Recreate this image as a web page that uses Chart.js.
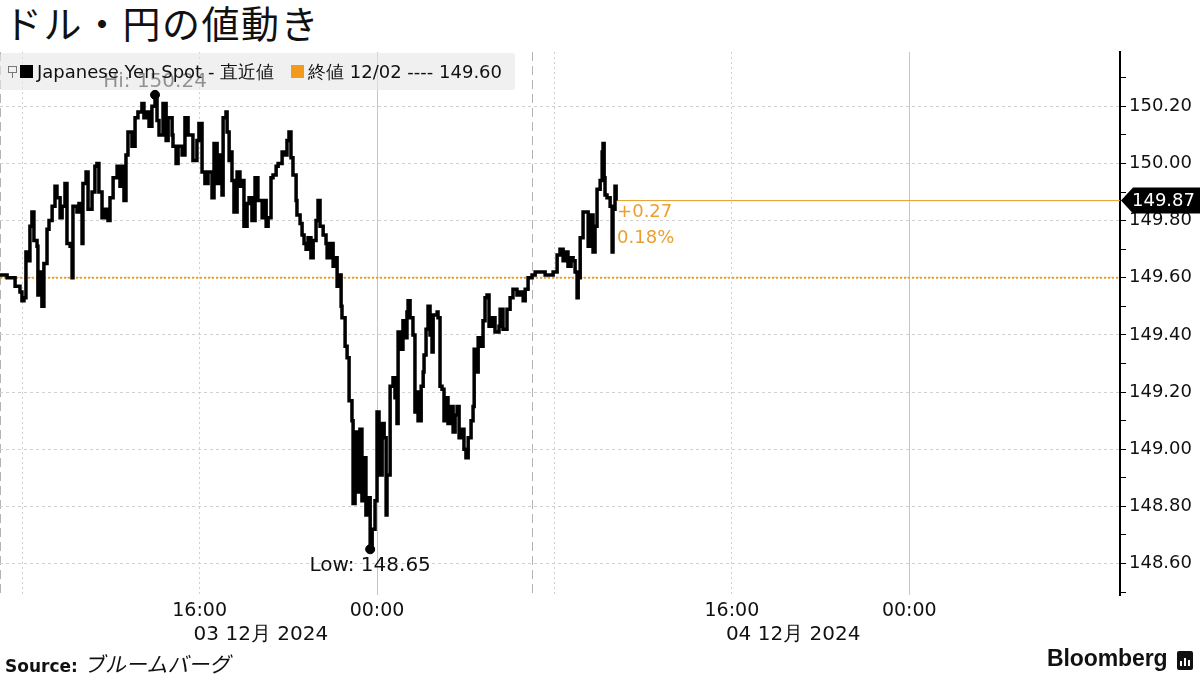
<!DOCTYPE html>
<html>
<head>
<meta charset="utf-8">
<script src="https://cdn.jsdelivr.net/npm/chart.js@4.4.0/dist/chart.umd.min.js"></script>
<style>
  body { margin: 0; width: 1200px; height: 675px; position: relative; overflow: hidden; background: #fff; font-family: "DejaVu Sans", sans-serif; color: #111; }
  #title { position: absolute; left: 4px; top: -3px; font: 38px/50px "Noto Sans CJK JP", sans-serif; letter-spacing: 1.5px; color: #111; }
  #chart { position: absolute; left: 0; top: 0; }
  #legend { position: absolute; left: 0; top: 53px; width: 515px; height: 37px; background: rgba(230,230,230,0.6); border-radius: 3px; z-index: 2; font-size: 18px; line-height: 37px; white-space: nowrap; }
  #legend .icon { position: absolute; left: 8px; top: 13px; width: 7px; height: 5px; border: 1px solid #777; }
  #legend .icon:after { content: ''; position: absolute; left: 3px; top: 5px; width: 1px; height: 6px; background: #777; }
  #legend .sq { position: absolute; top: 12px; width: 13px; height: 13px; }
  #legend .txt { position: absolute; top: 0; }
  #source { position: absolute; left: 5px; top: 648px; font-size: 17px; }
  #source b { font-weight: bold; }
  #source i { display: inline-block; font-style: normal; font-family: "Noto Sans CJK JP", sans-serif; font-size: 21px; margin-left: 8px; transform: skewX(-12deg); }
  #brand { position: absolute; left: 1047px; top: 645px; font: bold 23px "Liberation Sans", Arial, sans-serif; letter-spacing: -0.1px; }
  #logo { position: absolute; left: 1177px; top: 651px; width: 16px; height: 19px; background: #111; border-radius: 2px; }
  #logo span { position: absolute; bottom: 4px; width: 2px; background: #fff; }
</style>
</head>
<body>
<div id="title">ドル・円の値動き</div>
<div id="legend">
  <span class="icon"></span>
  <span class="sq" style="left:20px;background:#000"></span>
  <span class="txt" id="lg1" style="left:37px"></span>
  <span class="sq" style="left:291px;background:#f39a1e"></span>
  <span class="txt" id="lg2" style="left:308px"></span>
</div>
<canvas id="chart" width="1200" height="675"></canvas>
<div id="source"><b>Source:</b><i>ブルームバーグ</i></div>
<div id="brand">Bloomberg</div>
<div id="logo"><span style="left:3px;height:5px"></span><span style="left:7px;height:8px"></span><span style="left:11px;height:6px"></span></div>
<script>
// hours counted from 2024-12-03 00:00
const times = [
  7.00, 7.32, 7.54, 7.68, 7.90, 7.99, 8.08, 8.17, 8.26, 8.35, 8.44, 8.53, 8.67, 8.71, 8.80, 8.89, 8.98,
  9.12, 9.21, 9.35, 9.48, 9.57, 9.71, 9.80, 9.93, 10.02, 10.16, 10.25, 10.29, 10.47, 10.56, 10.70, 10.74,
  10.88, 10.97, 11.15, 11.28, 11.37, 11.46, 11.60, 11.74, 11.87, 11.96, 12.10, 12.28, 12.41, 12.50, 12.59,
  12.68, 12.77, 12.95, 13.09, 13.22, 13.40, 13.49, 13.63, 13.72, 13.85, 13.99, 14.08, 14.17, 14.35, 14.49,
  14.58, 14.76, 14.80, 14.94, 15.03, 15.21, 15.34, 15.48, 15.70, 15.88, 15.97, 16.11, 16.24, 16.38, 16.56,
  16.65, 16.79, 16.92, 17.01, 17.06, 17.19, 17.24, 17.33, 17.42, 17.46, 17.55, 17.69, 17.82, 17.96, 18.00,
  18.14, 18.23, 18.36, 18.50, 18.63, 18.82, 18.91, 19.00, 19.09, 19.22, 19.31, 19.45, 19.54, 19.72, 19.85,
  19.94, 20.03, 20.12, 20.21, 20.35, 20.39, 20.53, 20.62, 20.71, 20.80, 20.89, 21.02, 21.12, 21.25, 21.34,
  21.43, 21.57, 21.70, 21.75, 21.88, 22.02, 22.11, 22.20, 22.29, 22.38, 22.42, 22.56, 22.65, 22.74, 22.87,
  22.92, 23.01, 23.10, 23.23, 23.32, 23.41, 23.50, 23.60, 23.69, 23.78, 23.91, 24.00, 24.09, 24.23, 24.32,
  24.41, 24.45, 24.59, 24.72, 24.81, 24.90, 24.95, 25.08, 25.17, 25.26, 25.35, 25.40, 25.49, 25.62, 25.71,
  25.80, 25.85, 25.99, 26.08, 26.12, 26.21, 26.30, 26.39, 26.48, 26.53, 26.71, 26.75, 26.84, 26.93, 27.02,
  27.16, 27.20, 27.34, 27.43, 27.52, 27.61, 27.70, 27.83, 27.92, 28.01, 28.11, 28.24, 28.33, 28.38, 28.51,
  28.56, 28.69, 28.78, 28.87, 28.96, 29.05, 29.19, 29.32, 29.50, 29.55, 29.68, 29.86, 30.00, 30.13, 30.31,
  30.45, 30.59, 30.68, 30.81, 30.99, 31.13, 31.35, 31.58, 31.80, 31.94, 32.12, 32.25, 32.39, 32.48, 32.61,
  32.75, 32.84, 32.93, 33.02, 33.07, 33.16, 33.29, 33.47, 33.52, 33.65, 33.74, 33.83, 33.92, 34.06, 34.15,
  34.19, 34.24, 34.28, 34.37, 34.51, 34.60, 34.64, 34.73, 34.78
];
const prices = [
  149.61, 149.60, 149.60, 149.57, 149.55, 149.52, 149.53, 149.69, 149.66, 149.78, 149.83, 149.73, 149.71, 149.54, 149.62, 149.50, 149.65,
  149.77, 149.80, 149.85, 149.92, 149.88, 149.81, 149.85, 149.93, 149.72, 149.71, 149.60, 149.85, 149.83, 149.86, 149.72, 149.93,
  149.97, 149.84, 149.90, 149.99, 150.00, 149.90, 149.81, 149.84, 149.80, 149.88, 149.95, 149.99, 149.92, 149.99, 149.87,
  150.03, 150.11, 150.06, 150.16, 150.18, 150.21, 150.16, 150.18, 150.13, 150.20, 150.24, 150.15, 150.10, 150.21, 150.08,
  150.16, 150.10, 150.06, 150.00, 150.06, 150.03, 150.16, 150.10, 150.01, 150.08, 150.14, 149.97, 149.93, 149.97, 149.88,
  150.07, 149.93, 150.03, 149.89, 150.16, 150.18, 150.11, 150.01, 150.04, 149.94, 149.83, 149.97, 149.92, 149.94, 149.78,
  149.86, 149.88, 149.80, 149.95, 149.87, 149.81, 149.87, 149.78, 149.81, 149.95, 149.96, 149.99, 150.00, 150.04, 150.03,
  150.08, 150.11, 150.02, 149.96, 149.87, 149.82, 149.79, 149.75, 149.72, 149.70, 149.74, 149.67, 149.73, 149.80, 149.87,
  149.78, 149.75, 149.72, 149.67, 149.72, 149.64, 149.67, 149.57, 149.61, 149.50, 149.46, 149.36, 149.32, 149.17, 149.10,
  148.81, 149.06, 148.85, 149.07, 148.82, 148.97, 148.77, 148.83, 148.65, 148.72, 148.82, 149.13, 148.91, 149.09, 149.04,
  148.77, 148.91, 149.22, 149.25, 149.18, 149.09, 149.41, 149.35, 149.45, 149.39, 149.48, 149.52, 149.46, 149.40, 149.13,
  149.20, 149.10, 149.22, 149.27, 149.33, 149.42, 149.50, 149.40, 149.34, 149.47, 149.48, 149.46, 149.22, 149.21, 149.10,
  149.18, 149.09, 149.15, 149.06, 149.12, 149.15, 149.04, 149.07, 149.00, 148.97, 149.04, 149.10, 149.15, 149.35, 149.27,
  149.39, 149.36, 149.45, 149.53, 149.54, 149.43, 149.46, 149.41, 149.43, 149.49, 149.42, 149.49, 149.53, 149.56, 149.54,
  149.55, 149.52, 149.56, 149.60, 149.61, 149.62, 149.62, 149.61, 149.61, 149.62, 149.68, 149.70, 149.66, 149.69, 149.64,
  149.67, 149.66, 149.62, 149.53, 149.60, 149.74, 149.83, 149.83, 149.71, 149.82, 149.69, 149.78, 149.91, 149.94, 150.04,
  150.07, 149.95, 149.89, 149.88, 149.85, 149.69, 149.84, 149.92, 149.87
];

const seriesName = 'Japanese Yen Spot - 直近値';
const prevCloseLabel = '終値 12/02';
const prevClose = 149.60;
const hiTime = 13.99, hiPrice = 150.24;
const lowTime = 23.69, lowPrice = 148.65;

const xMin = 7, xMax = 57.5;
const xGridHours = [7, 8, 16, 24, 31, 32, 40, 48];
const xTickLabels = { 16: '16:00', 24: '00:00', 40: '16:00', 48: '00:00' };
const dateLabels = [[16, '03 12月 2024'], [40, '04 12月 2024']];
const midnights = [24, 48];
const sessionBreaks = [7, 31];

const yMin = 148.49, yMax = 150.39;
const yTickValues = [148.5, 148.6, 148.7, 148.8, 148.9, 149.0, 149.1, 149.2, 149.3, 149.4,
  149.5, 149.6, 149.7, 149.8, 149.9, 150.0, 150.1, 150.2, 150.3];
const yTickLabels = ['', '148.60', '', '148.80', '', '149.00', '', '149.20', '', '149.40',
  '', '149.60', '', '149.80', '', '150.00', '', '150.20', ''];

const orange = '#eb9f2e';
const lastTime = times[times.length - 1];
const lastPrice = prices[prices.length - 1];
const change = lastPrice - prevClose;
const changePct = change / prevClose * 100;

document.getElementById('lg1').textContent = seriesName;
document.getElementById('lg2').textContent = prevCloseLabel + ' ---- ' + prevClose.toFixed(2);

const priceData = times.map((t, i) => ({ x: t, y: prices[i] }));

// labels, last price tag and dates
const annotations = {
  id: 'annotations',
  afterDraw(chart) {
    const { ctx, scales: { x, y } } = chart;
    ctx.save();
    ctx.font = '20px "DejaVu Sans"';
    ctx.textBaseline = 'middle';
    ctx.textAlign = 'center';
    ctx.fillStyle = '#111';
    ctx.fillText('Hi: ' + hiPrice.toFixed(2), x.getPixelForValue(hiTime), y.getPixelForValue(hiPrice) - 13);
    ctx.fillText('Low: ' + lowPrice.toFixed(2), x.getPixelForValue(lowTime), y.getPixelForValue(lowPrice) + 17);

    ctx.font = '18px "DejaVu Sans"';
    const lx = x.getPixelForValue(lastTime) + 1;
    const ly = y.getPixelForValue(lastPrice);
    ctx.textAlign = 'left';
    ctx.fillStyle = orange;
    ctx.fillText((change >= 0 ? '+' : '') + change.toFixed(2), lx, ly + 12);
    ctx.fillText(changePct.toFixed(2) + '%', lx, ly + 38);

    const ax = chart.chartArea.right + 1;
    ctx.fillStyle = '#000';
    ctx.beginPath();
    ctx.moveTo(ax, ly);
    ctx.lineTo(ax + 12, ly - 13);
    ctx.lineTo(1200, ly - 13);
    ctx.lineTo(1200, ly + 13);
    ctx.lineTo(ax + 12, ly + 13);
    ctx.closePath();
    ctx.fill();
    ctx.fillStyle = '#fff';
    ctx.fillText(lastPrice.toFixed(2), ax + 11, ly + 1);

    ctx.font = '20px "DejaVu Sans"';
    ctx.fillStyle = '#111';
    dateLabels.forEach(([h, text]) => {
      ctx.fillText(text, x.getPixelForValue(h) - 6, chart.chartArea.bottom + 40);
    });
    ctx.restore();
  }
};

new Chart(document.getElementById('chart'), {
  type: 'line',
  data: {
    datasets: [
      {
        type: 'scatter',
        data: [{ x: hiTime, y: hiPrice }, { x: lowTime, y: lowPrice }],
        pointRadius: 4.5,
        pointBackgroundColor: '#000',
        pointBorderColor: '#000',
        order: 0
      },
      {
        label: seriesName,
        data: priceData,
        borderColor: '#000',
        borderWidth: 3.5,
        pointRadius: 0,
        stepped: true,
        order: 1
      },
      {
        data: [{ x: lastTime, y: lastPrice }, { x: xMax, y: lastPrice }],
        borderColor: '#e39b22',
        borderWidth: 1,
        pointRadius: 0,
        order: 2
      },
      {
        data: [{ x: xMin, y: prevClose }, { x: xMax, y: prevClose }],
        borderColor: orange,
        borderWidth: 2,
        borderDash: [2, 2],
        pointRadius: 0,
        order: 3
      }
    ]
  },
  options: {
    responsive: false,
    animation: false,
    devicePixelRatio: 1,
    layout: { autoPadding: false, padding: { top: 52, bottom: 50, left: 0, right: 0 } },
    plugins: { legend: { display: false }, tooltip: { enabled: false } },
    scales: {
      x: {
        type: 'linear',
        min: xMin,
        max: xMax,
        afterBuildTicks: (scale) => { scale.ticks = xGridHours.map(v => ({ value: v })); },
        afterFit: (scale) => { scale.height = 30; },
        ticks: {
          autoSkip: false,
          maxRotation: 0,
          padding: 0,
          color: '#111',
          font: { family: 'DejaVu Sans', size: 19 },
          callback: (v) => xTickLabels[v] || ''
        },
        grid: {
          drawTicks: true,
          tickLength: 5,
          tickColor: 'rgba(0,0,0,0)',
          lineWidth: 1,
          color: (ctx) => {
            const v = ctx.tick && ctx.tick.value;
            if (midnights.includes(v)) return '#c6c6c6';
            if (sessionBreaks.includes(v)) return '#b4b4b4';
            return '#d0d0d0';
          }
        },
        border: {
          display: false,
          dash: (ctx) => {
            const v = ctx.tick && ctx.tick.value;
            if (v === undefined || midnights.includes(v)) return [];
            if (sessionBreaks.includes(v)) return [9, 5];
            return [2, 3];
          }
        }
      },
      y: {
        type: 'linear',
        position: 'right',
        min: yMin,
        max: yMax,
        afterBuildTicks: (scale) => { scale.ticks = yTickValues.map(v => ({ value: v })); },
        afterFit: (scale) => { scale.width = 80; },
        ticks: {
          padding: 3,
          color: '#111',
          font: { family: 'DejaVu Sans', size: 18 },
          callback: (v, i) => yTickLabels[i]
        },
        grid: {
          lineWidth: 1,
          tickLength: 6,
          tickWidth: 1,
          tickColor: '#000',
          tickBorderDash: [],
          color: (ctx) => (yTickLabels[ctx.index] ? '#d0d0d0' : 'rgba(0,0,0,0)')
        },
        border: {
          display: true,
          color: '#000',
          width: 2,
          dash: (ctx) => (ctx.tick ? [3, 3] : [])
        }
      }
    }
  },
  plugins: [annotations]
});
</script>
</body>
</html>
